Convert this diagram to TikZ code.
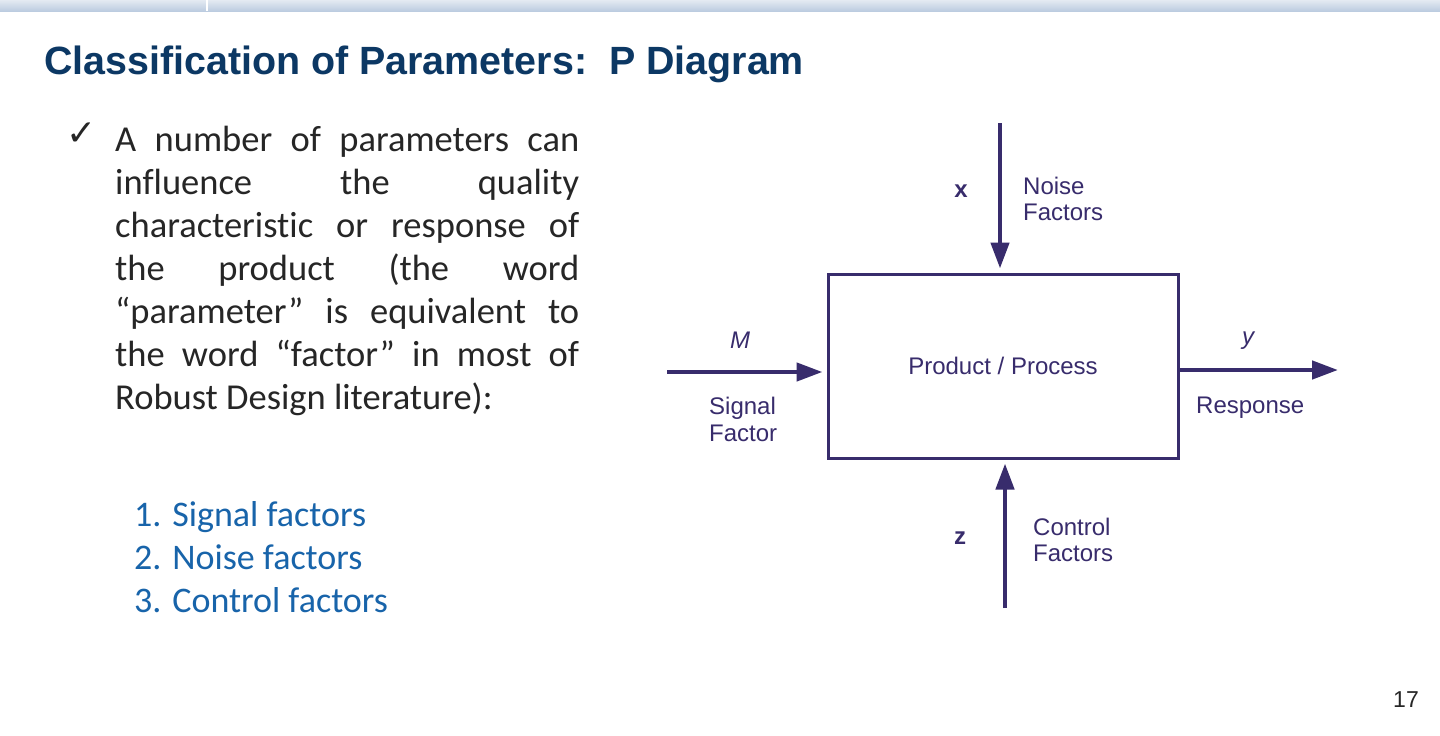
\documentclass[tikz,border=0pt]{standalone}
\usepackage{fontspec}
\setmainfont{Liberation Sans}
\newfontfamily\bodyfont[Ligatures={NoCommon}]{Carlito}
\newfontfamily\symfont{DejaVu Sans}
\usetikzlibrary{arrows.meta}
\definecolor{titlecol}{RGB}{12,56,100}
\definecolor{bodycol}{RGB}{38,38,38}
\definecolor{listcol}{RGB}{24,100,170}
\definecolor{diacol}{RGB}{56,44,108}
\definecolor{bandtop}{RGB}{228,234,242}
\definecolor{bandbot}{RGB}{188,204,224}
\tikzset{
  bodyline/.style={anchor=base west, inner sep=0, text=bodycol, font=\bodyfont\fontsize{36.5}{40}\selectfont},
  listline/.style={anchor=base west, inner sep=0, text=listcol, font=\bodyfont\fontsize{36}{40}\selectfont},
  dlabel/.style={anchor=base west, inner sep=0, text=diacol, font=\fontsize{24}{27}\selectfont},
  dvar/.style={anchor=base, inner sep=0, text=diacol, font=\fontsize{24}{27}\selectfont},
  flow/.style={draw=diacol, line width=4.5pt, -{Triangle[length=26pt,width=18pt]}},
  pbox/.style={draw=diacol, line width=3pt, minimum width=350pt, minimum height=184pt, inner sep=0, text=diacol, font=\fontsize{24}{27}\selectfont}
}
\begin{document}
\begin{tikzpicture}[x=1pt,y=-1pt]
\useasboundingbox[fill=white] (0,0) rectangle (1440,736);
% top band
\shade[top color=bandtop, bottom color=bandbot] (0,0) rectangle (1440,11);
\draw[white, line width=2pt] (207,0) -- (207,11);
% title
\node[anchor=base west, inner sep=0, text=titlecol, font=\bfseries\fontsize{39.4}{44}\selectfont] (title) at (44,74) {Classification of Parameters:\ \ P Diagram};
% bullet
\node[anchor=base west, inner sep=0, text=bodycol, font=\symfont\fontsize{36}{38}\selectfont] (check) at (66,145) {✓};
\node[bodyline] (l1) at (115,151) {\makebox[464pt][s]{A number of parameters can}};
\node[bodyline] (l2) at (115,194) {\makebox[464pt][s]{influence the quality}};
\node[bodyline] (l3) at (115,237) {\makebox[464pt][s]{characteristic or response of}};
\node[bodyline] (l4) at (115,280) {\makebox[464pt][s]{the product (the word}};
\node[bodyline] (l5) at (115,323) {\makebox[464pt][s]{“parameter” is equivalent to}};
\node[bodyline] (l6) at (115,366) {\makebox[464pt][s]{the word “factor” in most of}};
\node[bodyline] (l7) at (115,409) {Robust Design literature):};
% list
\node[listline] (i1) at (134,526) {1. Signal factors};
\node[listline] (i2) at (134,569) {2. Noise factors};
\node[listline] (i3) at (134,612) {3. Control factors};
% page number
\node[anchor=base west, inner sep=0, text=black!85, font=\fontsize{23}{26}\selectfont] (pg) at (1393,707) {17};
% diagram
\node[pbox] (box) at (1003,366) {Product / Process};
\coordinate (nt) at (1000,123);
\coordinate (sl) at (667,372);
\coordinate (re) at (1338,370);
\coordinate (cb) at (1005,608);
\draw[flow, shorten >=4pt] (nt) -- (nt |- box.north);
\draw[flow, shorten >=4pt] (sl) -- (sl -| box.west);
\draw[flow] (re -| box.east) -- (re);
\draw[flow, shorten >=4pt] (cb) -- (cb |- box.south);
\node[dvar, font=\bfseries\fontsize{24}{27}\selectfont] (xl) at (961,197) {x};
\node[dlabel] (nf1) at (1023,194) {Noise};
\node[dlabel] (nf2) at (1023,220) {Factors};
\node[dvar, font=\itshape\fontsize{24}{27}\selectfont] (ml) at (740,348) {M};
\node[dlabel] (sf1) at (709,414) {Signal};
\node[dlabel] (sf2) at (709,441) {Factor};
\node[dvar, font=\itshape\fontsize{24}{27}\selectfont] (yl) at (1248,344) {y};
\node[dlabel] (rs) at (1196,413) {Response};
\node[dvar, font=\bfseries\fontsize{24}{27}\selectfont] (zl) at (960,544) {z};
\node[dlabel] (cf1) at (1033,535) {Control};
\node[dlabel] (cf2) at (1033,561) {Factors};
\end{tikzpicture}
\end{document}
